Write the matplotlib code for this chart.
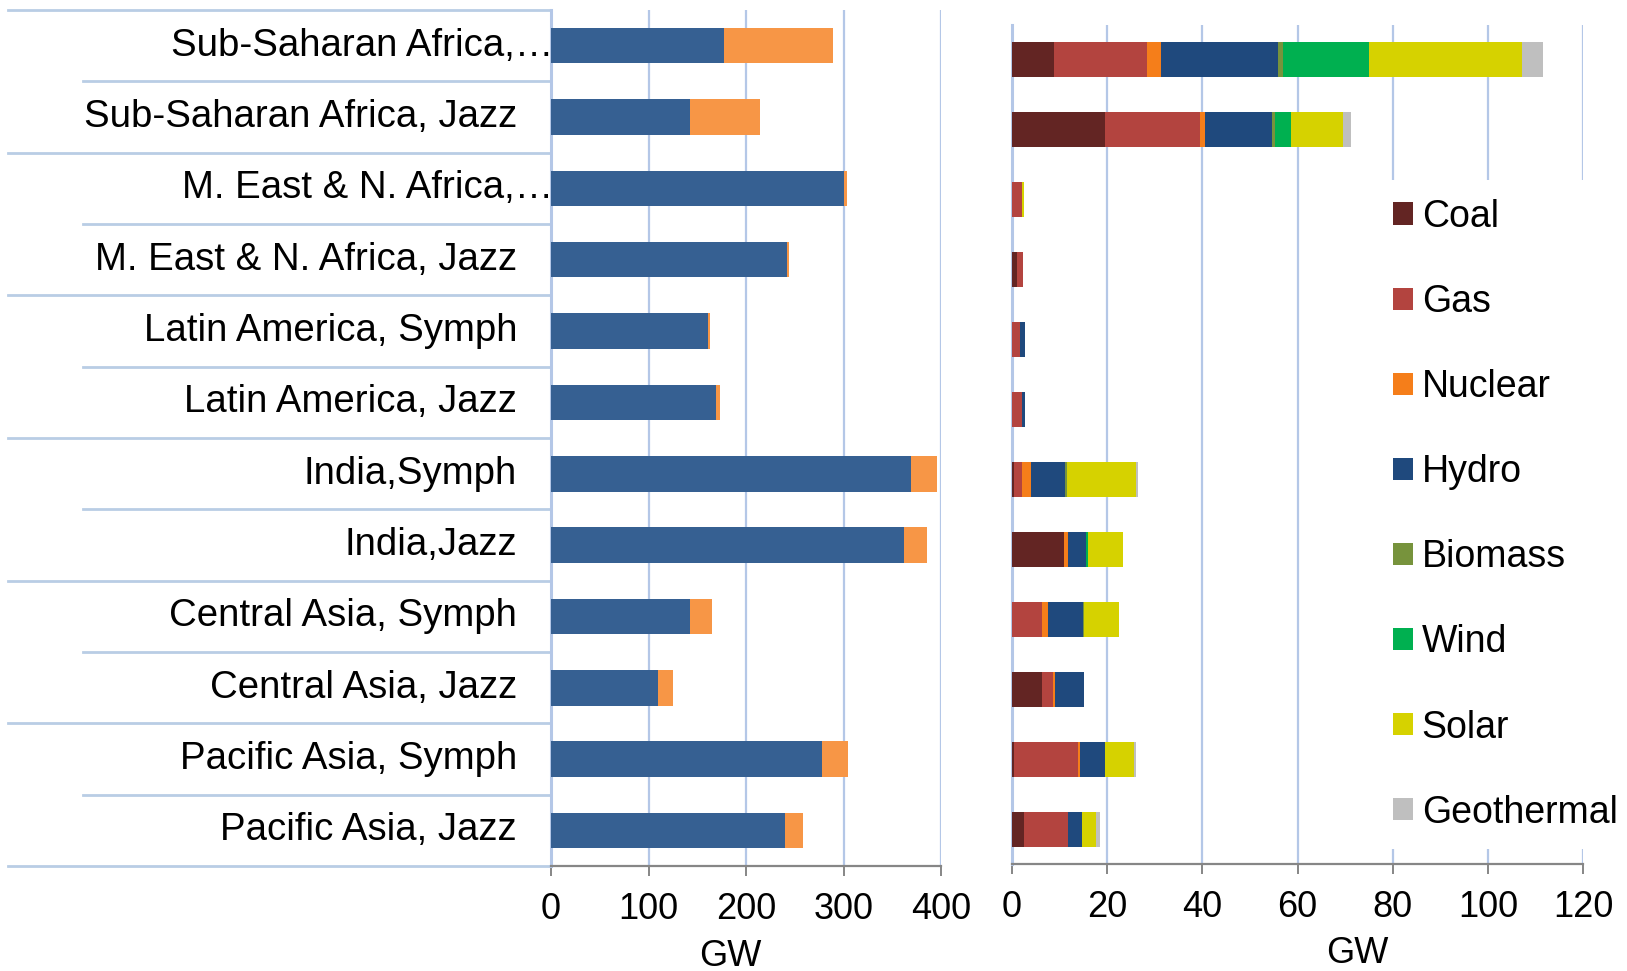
import numpy as np
import matplotlib
matplotlib.use("Agg")
import matplotlib.pyplot as plt
from matplotlib.lines import Line2D
from matplotlib.transforms import blended_transform_factory

plt.rcParams['font.family'] = ['Liberation Sans', 'DejaVu Sans']

# ---------------------------------------------------------------
#  data (top row first)
# ---------------------------------------------------------------
categories = ['Sub-Saharan Africa, Symph', 'Sub-Saharan Africa, Jazz',
              'M. East & N. Africa, Symph', 'M. East & N. Africa, Jazz',
              'Latin America, Symph', 'Latin America, Jazz',
              'India,Symph', 'India,Jazz',
              'Central Asia, Symph', 'Central Asia, Jazz',
              'Pacific Asia, Symph', 'Pacific Asia, Jazz']
# labels as shown (two are cut off in the original)
shown_labels = ['Sub-Saharan Africa,\u2026', 'Sub-Saharan Africa, Jazz',
                'M. East & N. Africa,\u2026', 'M. East & N. Africa, Jazz',
                'Latin America, Symph', 'Latin America, Jazz',
                'India,Symph', 'India,Jazz',
                'Central Asia, Symph', 'Central Asia, Jazz',
                'Pacific Asia, Symph', 'Pacific Asia, Jazz']
truncated = [True, False, True, False, False, False,
             False, False, False, False, False, False]

blue_gw = [177.6, 142.9, 300.4, 241.7, 160.6, 169.5,
           369.6, 361.7, 142.9, 110.0, 277.9, 239.7]
orange_gw = [111.8, 71.3, 3.0, 2.4, 2.7, 3.4,
             26.6, 23.5, 22.5, 15.3, 26.3, 18.4]

sources = ['Coal', 'Gas', 'Nuclear', 'Hydro', 'Biomass', 'Wind', 'Solar', 'Geothermal']
coal    = [8.8, 19.6, 0.0, 1.1, 0.0, 0.0, 0.5, 10.9, 0.0, 6.2, 0.35, 2.5]
gas     = [19.5, 20.0, 2.2, 1.3, 1.7, 2.1, 1.5, 0.0, 6.2, 2.5, 13.5, 9.2]
nuclear = [3.1, 1.0, 0.0, 0.0, 0.0, 0.0, 2.0, 0.85, 1.3, 0.35, 0.35, 0.0]
hydro   = [24.6, 14.0, 0.0, 0.0, 1.0, 0.55, 7.2, 3.9, 7.5, 6.0, 5.3, 3.0]
biomass = [0.9, 0.7, 0.0, 0.0, 0.0, 0.0, 0.35, 0.0, 0.15, 0.0, 0.0, 0.0]
wind    = [18.2, 3.3, 0.0, 0.0, 0.0, 0.0, 0.0, 0.35, 0.0, 0.0, 0.0, 0.0]
solar   = [32.1, 11.0, 0.35, 0.0, 0.0, 0.0, 14.6, 7.3, 7.4, 0.15, 6.1, 2.9]
geothermal = [4.4, 1.55, 0.0, 0.0, 0.0, 0.0, 0.4, 0.0, 0.0, 0.0, 0.4, 0.9]

source_colors = ['#632523', '#B3443F', '#F57E1A', '#1F497D',
                 '#77933C', '#00B050', '#D6D200', '#BFBFBF']

# ---------------------------------------------------------------
#  figure / axes geometry (pixel based)
# ---------------------------------------------------------------
W, H = 1627, 971
fig = plt.figure(figsize=(W / 100, H / 100), dpi=100)

def px_axes(x0, y0, x1, y1):
    return fig.add_axes([x0 / W, 1 - y1 / H, (x1 - x0) / W, (y1 - y0) / H])

ax1 = px_axes(551, 10, 941, 866)
ax2 = px_axes(1012, 25, 1583, 864)

grid_col = '#B4C7E7'
spine_col = '#868686'
y = np.arange(len(categories))

# ---------------------------------------------------------------
#  left chart
# ---------------------------------------------------------------
ax1.barh(y, blue_gw, height=0.5, color='#366092', zorder=3)
ax1.barh(y, orange_gw, left=blue_gw, height=0.5, color='#F79646', zorder=3)

ax1.set_xlim(0, 400)
ax1.set_ylim(len(categories) - 0.5, -0.5)
ax1.set_xticks([0, 100, 200, 300, 400])
ax1.set_yticks([])

# ---------------------------------------------------------------
#  right chart
# ---------------------------------------------------------------
stack = [coal, gas, nuclear, hydro, biomass, wind, solar, geothermal]
left = np.zeros(len(categories))
handles = []
for vals, col, name in zip(stack, source_colors, sources):
    b = ax2.barh(y, vals, left=left, height=0.5, color=col, zorder=3, label=name)
    handles.append(b)
    left += np.array(vals)

ax2.set_xlim(0, 120)
ax2.set_ylim(len(categories) - 0.5, -0.5)
ax2.set_xticks(np.arange(0, 121, 20))
ax2.set_yticks([])

for ax in (ax1, ax2):
    ax.grid(axis='x', color=grid_col, linewidth=1.6, zorder=0)
    for s in ('top', 'right'):
        ax.spines[s].set_visible(False)
    ax.spines['left'].set_color(grid_col)
    ax.spines['left'].set_linewidth(2.2)
    ax.spines['bottom'].set_color(spine_col)
    ax.spines['bottom'].set_linewidth(1.6)
    ax.tick_params(axis='x', length=7, width=1.4, color=spine_col,
                   labelsize=26, pad=12)

fig.text(730 / W, 1 - 956 / H, 'GW', fontsize=26, ha='center', va='center')
fig.text(1357 / W, 1 - 953 / H, 'GW', fontsize=26, ha='center', va='center')

# ---------------------------------------------------------------
#  category labels and table-like separators
# ---------------------------------------------------------------
tr = blended_transform_factory(fig.transFigure, ax1.transData)
for i, (lab, cut) in enumerate(zip(shown_labels, truncated)):
    xr = 553 if cut else 517
    ax1.text(xr / W, i, lab, transform=tr, ha='right', va='center',
             fontsize=27.6, clip_on=False)

sep_col = '#B9CDE5'
for i in range(len(categories) + 1):
    yy = i - 0.5
    x0 = 8 if i % 2 == 0 else 83
    ax1.add_line(Line2D([x0 / W, 551 / W], [yy, yy], transform=tr,
                        color=sep_col, linewidth=2, clip_on=False))

# ---------------------------------------------------------------
#  legend
# ---------------------------------------------------------------
leg = fig.legend(handles, sources, loc='upper left',
                 bbox_to_anchor=(1374 / W, 1 - 180 / H),
                 fontsize=27, handlelength=0.53, handleheight=0.53,
                 handletextpad=0.24, labelspacing=1.31, borderpad=0.5,
                 borderaxespad=0, frameon=True, fancybox=False)
leg.get_frame().set_facecolor('white')
leg.get_frame().set_edgecolor('none')
leg.get_frame().set_alpha(1)

fig.savefig('out.png', dpi=100)
